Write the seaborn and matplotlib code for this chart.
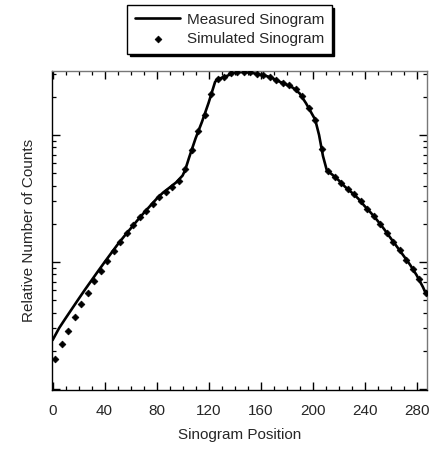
import numpy as np
import pandas as pd
import matplotlib
matplotlib.use('Agg')
from matplotlib import pyplot as plt
from matplotlib.ticker import LogLocator, MultipleLocator, NullFormatter
import seaborn as sns

# Measured sinogram
measured_pos = [0, 5, 10, 15, 20, 25, 30, 35, 40, 45, 50, 55, 60, 65, 70, 75, 80, 85,
                90, 95, 100, 102, 105, 110, 115, 120, 125, 127, 130, 132, 135, 140, 145,
                150, 155, 160, 165, 170, 175, 180, 185, 190, 195, 200, 202, 205, 208, 211,
                215, 220, 225, 230, 235, 240, 245, 250, 255, 260, 265, 270, 275, 280, 285, 287]
measured_counts = [243, 302, 361, 430, 512, 608, 718, 848, 998, 1171, 1373, 1591, 1832, 2114,
                   2423, 2760, 3145, 3520, 3853, 4227, 4790, 5302, 6627, 9401, 12750, 17890,
                   26150, 27600, 28100, 28620, 29410, 31110, 31340, 31170, 30600, 29730, 28990,
                   27700, 26150, 24900, 23490, 21270, 17740, 14370, 13220, 10000, 6832, 5254,
                   4887, 4407, 3910, 3532, 3168, 2760, 2431, 2114, 1818, 1545, 1317, 1121, 952,
                   790, 633, 570]

# Simulated sinogram, every 5th position
simulated_pos = list(range(2, 288, 5))
simulated_counts = [174, 225, 289, 371, 465, 575, 709, 852, 1022, 1214, 1432, 1683, 1956, 2241,
                    2535, 2862, 3250, 3558, 3896, 4304, 5350, 7619, 10750, 14240, 20840, 27600,
                    28620, 30500, 31340, 31340, 31050, 30220, 29410, 28620, 27110, 25670, 24540,
                    22820, 20280, 16170, 13010, 7759, 5159, 4670, 4166, 3723, 3400, 2995, 2591,
                    2282, 1992, 1698, 1445, 1232, 1046, 881, 735, 570]

measured = pd.DataFrame({'pos': measured_pos, 'counts': measured_counts})
simulated = pd.DataFrame({'pos': simulated_pos, 'counts': simulated_counts})

sns.set_style('ticks')
plt.rcParams['font.family'] = ['Liberation Sans', 'DejaVu Sans']
plt.rcParams['font.size'] = 11

fig = plt.figure(figsize=(4.33, 4.49), dpi=100)
ax = fig.add_axes([0.120, 0.131, 0.866, 0.711])

sns.lineplot(data=measured, x='pos', y='counts', ax=ax, color='black', linewidth=1.9,
             label='Measured Sinogram', legend=False)
sns.scatterplot(data=simulated, x='pos', y='counts', ax=ax, color='black', marker='D',
                s=12, edgecolor='black', linewidth=0.5, label='Simulated Sinogram',
                legend=False, zorder=3)

ax.set_yscale('log')
ax.set_xlim(-0.5, 288)
ax.set_ylim(98, 31900)

ax.xaxis.set_major_locator(MultipleLocator(40))
ax.xaxis.set_minor_locator(MultipleLocator(10))
ax.yaxis.set_major_locator(LogLocator(base=10, numticks=10))
ax.yaxis.set_minor_locator(LogLocator(base=10, subs=np.arange(2, 10), numticks=20))
ax.yaxis.set_major_formatter(NullFormatter())
ax.yaxis.set_minor_formatter(NullFormatter())

ax.tick_params(which='both', direction='in', top=True, right=True, color='black')
ax.tick_params(which='major', length=6, width=1, pad=10, labelsize=11)
ax.tick_params(which='minor', length=3, width=0.9)

for side in ['left', 'bottom']:
    ax.spines[side].set_color('black')
    ax.spines[side].set_linewidth(1.0)
for side in ['top', 'right']:
    ax.spines[side].set_color('#777777')
    ax.spines[side].set_linewidth(1.0)

ax.set_xlabel('Sinogram Position', fontsize=11, labelpad=7)
ax.set_ylabel('Relative Number of Counts', fontsize=11)
ax.yaxis.set_label_coords(-0.043, 0.5)

handles, labels = ax.get_legend_handles_labels()
leg = fig.legend(handles, labels, loc='upper left', bbox_to_anchor=(127 / 433, 1 - 5 / 449),
                 frameon=True, fancybox=False, shadow={'color': 'black', 'alpha': 1},
                 edgecolor='black', framealpha=1, borderaxespad=0, borderpad=0.5,
                 handlelength=3.0, handletextpad=0.4, labelspacing=0.35, fontsize=11,
                 markerscale=1.0)
leg.get_frame().set_linewidth(1.0)

fig.savefig('out.png', dpi=100)
